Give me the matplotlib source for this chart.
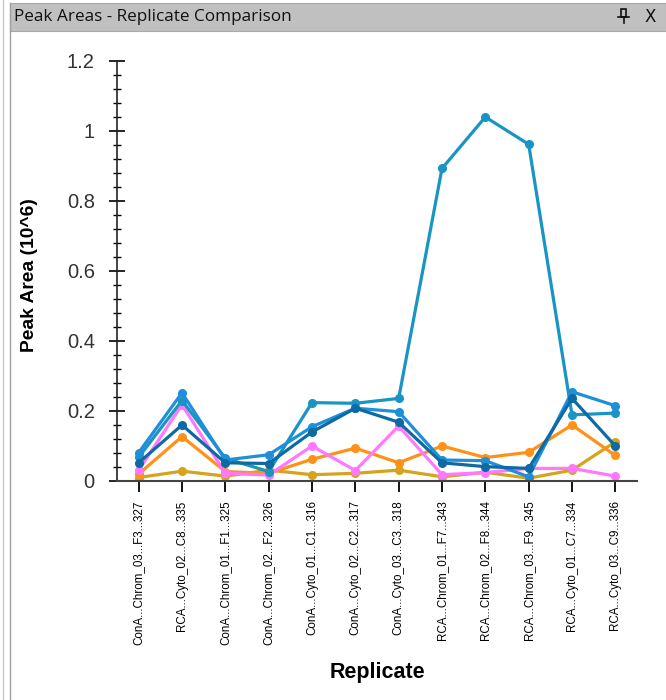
import matplotlib
matplotlib.use('Agg')
import matplotlib.pyplot as plt
from matplotlib.lines import Line2D
from matplotlib.patches import Rectangle
from matplotlib.ticker import MultipleLocator

W, H = 666, 700

replicates = ['ConA...Chrom_03...F3...327', 'RCA...Cyto_02...C8...335',
              'ConA...Chrom_01...F1...325', 'ConA...Chrom_02...F2...326',
              'ConA...Cyto_01...C1...316', 'ConA...Cyto_02...C2...317',
              'ConA...Cyto_03...C3...318', 'RCA...Chrom_01...F7...343',
              'RCA...Chrom_02...F8...344', 'RCA...Chrom_03...F9...345',
              'RCA...Cyto_01...C7...334', 'RCA...Cyto_03...C9...336']

# peak areas, units of 10^6
gold = [0.010, 0.028, 0.014, 0.031, 0.018, 0.022, 0.031, 0.012, 0.025, 0.008, 0.031, 0.112]
orange = [0.020, 0.127, 0.027, 0.022, 0.062, 0.094, 0.052, 0.100, 0.067, 0.082, 0.160, 0.073]
pink = [0.031, 0.218, 0.022, 0.017, 0.100, 0.030, 0.157, 0.018, 0.024, 0.036, 0.036, 0.014]
teal = [0.068, 0.230, 0.065, 0.027, 0.224, 0.222, 0.236, 0.893, 1.040, 0.962, 0.189, 0.194]
dark_blue = [0.052, 0.160, 0.052, 0.050, 0.140, 0.208, 0.168, 0.052, 0.041, 0.036, 0.236, 0.100]
light_blue = [0.081, 0.252, 0.060, 0.075, 0.155, 0.208, 0.198, 0.060, 0.058, 0.012, 0.255, 0.215]

series = [(gold, '#d4a41c'), (orange, '#ff9216'), (pink, '#ff78ff'),
          (teal, '#1895c3'), (light_blue, '#1f8fda'), (dark_blue, '#0d6aa4')]

fig = plt.figure(figsize=(W / 100, H / 100), dpi=100)
fig.patch.set_facecolor('white')

def fx(px):
    return px / W

def fy(py):
    return 1 - py / H

# window chrome: title bar and left border
fig.patches.append(Rectangle((fx(10), fy(31)), fx(656), 28 / H, transform=fig.transFigure,
                             facecolor='#c0c0c0', edgecolor='#a8a8a8', lw=0.8, zorder=0))
fig.lines.append(Line2D([fx(10), fx(10)], [0, fy(3)], transform=fig.transFigure, color='#a0a0a0', lw=1))
fig.lines.append(Line2D([fx(3), fx(3)], [0, 1], transform=fig.transFigure, color='#c8c8c8', lw=1))
fig.text(fx(14), fy(17), 'Peak Areas - Replicate Comparison', fontsize=12.3,
         family='Open Sans', va='center', ha='left', color='#111111')
# pin + close icons
fig.patches.append(Rectangle((fx(621), fy(17)), fx(5), 8 / H, transform=fig.transFigure,
                             facecolor='none', edgecolor='#111111', lw=1.2))
fig.lines.append(Line2D([fx(618), fx(629)], [fy(17), fy(17)], transform=fig.transFigure, color='#111111', lw=1.2))
fig.lines.append(Line2D([fx(623.5), fx(623.5)], [fy(17), fy(23)], transform=fig.transFigure, color='#111111', lw=1.2))
fig.text(fx(650), fy(17), 'X', fontsize=12, family='DejaVu Sans', va='center', ha='center', color='#111111')

ax = fig.add_axes([fx(117), fy(481), fx(520), 420 / H])
x = list(range(len(replicates)))
for vals, c in series:
    ax.plot(x, vals, color=c, lw=2.3, marker='o', ms=5.5, solid_joinstyle='round')

ax.set_xlim(-0.5, 11.5)
ax.set_ylim(0, 1.2)
ax.yaxis.set_minor_locator(MultipleLocator(0.04))
ax.set_yticks([0, 0.2, 0.4, 0.6, 0.8, 1.0, 1.2])
ax.set_yticklabels(['0', '0.2', '0.4', '0.6', '0.8', '1', '1.2'], family='Liberation Sans')
ax.set_xticks(x)
ax.set_xticklabels(replicates, rotation=90, fontsize=8.4,
                   family=['Liberation Sans Narrow', 'Liberation Sans'], va='top', ha='center')

for s in ['top', 'right']:
    ax.spines[s].set_visible(False)
ax.spines['left'].set_color('#222222')
ax.spines['bottom'].set_color('#444444')
ax.spines['left'].set_linewidth(1.2)
ax.spines['bottom'].set_linewidth(1.5)

ax.tick_params(axis='y', which='major', direction='inout', length=12, width=1.2,
               labelsize=14.5, labelcolor='#333333', pad=10)
ax.tick_params(axis='y', which='minor', direction='inout', length=6, width=1.0)
ax.tick_params(axis='x', which='major', direction='out', length=8, width=1.3, pad=6)

ax.set_ylabel('Peak Area (10^6)', fontsize=13.9, fontweight='bold', family='Liberation Sans')
ax.yaxis.set_label_coords(-0.152, 0.49)
ax.set_xlabel('Replicate', fontsize=15.5, fontweight='bold', family='Liberation Sans')
ax.xaxis.set_label_coords(0.5, -0.43)

fig.savefig('out.png', dpi=100)
